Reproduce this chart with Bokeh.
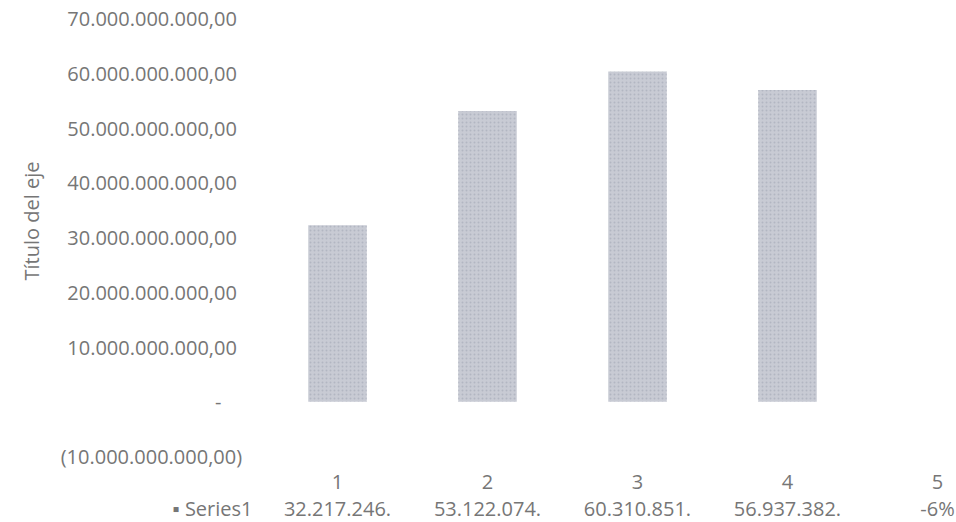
from bokeh.plotting import figure
from bokeh.models import Range1d, FixedTicker, Title
from bokeh.core.properties import value
from bokeh.embed import file_html
from bokeh.resources import INLINE

# ---- data ----
categories = [1, 2, 3, 4, 5]
category_labels = ["1", "2", "3", "4", "5"]
series_name = "Series1"
values = [32217246000.0, 53122074000.0, 60310851000.0, 56937382000.0, -0.06]
table_labels = ["32.217.246.", "53.122.074.", "60.310.851.", "56.937.382.", "-6%"]
y_ticks = [-10e9, 0.0, 10e9, 20e9, 30e9, 40e9, 50e9, 60e9, 70e9]
axis_title = "Título del eje"

# layout positions (value axis units) of the data-table rows below the plot
ROW_CAT_Y = -14.6e9
ROW_VAL_Y = -19.5e9

FONT = "Open Sans"
TXT = "#767676"
BAR = "#c8cbd4"
NB = "\u00a0"


def acct(v):
    if v == 0:
        return "-" + NB * 6
    s = f"{abs(v):,.2f}".replace(",", "X").replace(".", ",").replace("X", ".")
    return f"({s})" + NB * 2 if v < 0 else s + NB * 3


p = figure(width=956, height=522, output_backend="svg", toolbar_location=None,
           x_range=Range1d(0.5, 5.1267), y_range=Range1d(-22.05e9, 70e9),
           x_axis_location=None,
           min_border_left=262, min_border_right=0, min_border_top=18,
           min_border_bottom=0)
p.outline_line_color = None
p.xgrid.visible = False
p.ygrid.visible = False
p.background_fill_color = "white"
p.border_fill_color = "white"

p.vbar(x=categories, top=values, bottom=0, width=0.39,
       fill_color=BAR, line_color=None,
       hatch_pattern="dot", hatch_color="#a4a8b6", hatch_scale=4,
       hatch_alpha=0.6)

# data table rows (category numbers + values)
p.text(x=categories, y=[ROW_CAT_Y] * len(categories), text=category_labels,
       text_font=value(FONT), text_font_size="20px", text_color=TXT,
       text_align="center", text_baseline="middle")
p.text(x=categories, y=[ROW_VAL_Y] * len(categories), text=table_labels,
       text_font=value(FONT), text_font_size="20px", text_color=TXT,
       text_align="center", text_baseline="middle")

# y axis (with the data table's series key as its last label)
ya = p.yaxis[0]
ticks = y_ticks + [ROW_VAL_Y]
labels = {t: acct(t) for t in y_ticks}
labels[ROW_VAL_Y] = "\u25aa " + series_name
ya.ticker = FixedTicker(ticks=ticks)
ya.major_label_overrides = labels
ya.axis_line_color = None
ya.major_tick_line_color = None
ya.minor_tick_line_color = None
ya.major_tick_out = 0
ya.major_tick_in = 0
ya.major_label_standoff = 10
ya.major_label_text_font = FONT
ya.major_label_text_font_size = "20px"
ya.major_label_text_color = TXT

# axis title
p.add_layout(Title(text=axis_title, align="left", offset=242, standoff=22,
                   vertical_align="top",
                   text_font=FONT, text_font_size="20px",
                   text_font_style="normal", text_color=TXT), "left")

open("out.html", "w").write(file_html(p, INLINE))
